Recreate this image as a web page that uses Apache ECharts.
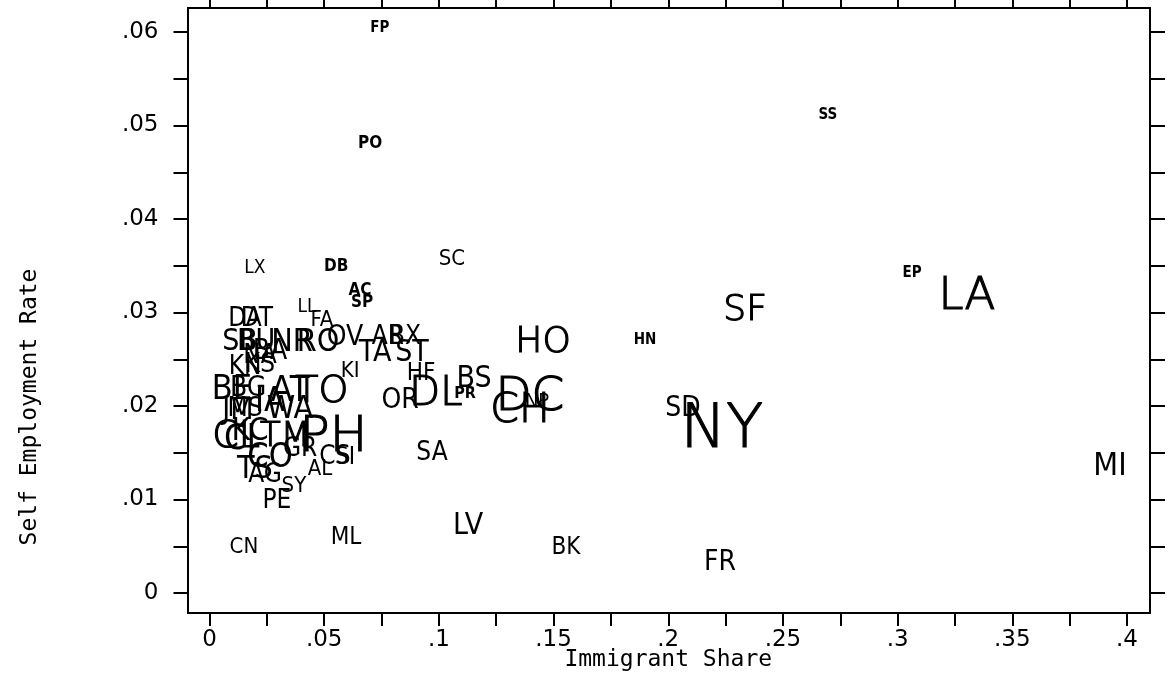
<!DOCTYPE html>
<html>
<head>
<meta charset="utf-8">
<script src="https://cdn.jsdelivr.net/npm/echarts@6/dist/echarts.min.js"></script>
<style>
  html, body { margin: 0; padding: 0; background: #fff; }
  #chart { width: 1168px; height: 687px; }
</style>
</head>
<body>
<div id="chart"></div>
<script>
// city codes
const cities = [
  "FP", "SS", "PO", "EP", "HN", "LX", "DB", "SC", "AC", "SP",
  "LL", "FA", "SF", "LA", "MI", "HO", "NY", "SD", "DC", "CH",
  "NP", "BS", "PR", "DL", "OR", "HF", "SA", "TA", "ST", "KI",
  "LV", "BK", "FR", "ML", "CN", "PE", "SY", "AL", "CS", "SI",
  "PH", "TM", "GR", "CL", "CI", "TS", "AG", "CO", "KC", "JM",
  "MS", "WA", "IA", "BE", "BG", "AT", "TO", "KN", "KS", "NA",
  "BA", "SB", "BU", "NR", "RO", "OV", "AR", "BX", "DA", "DT"
];
// immigrant share
const immShare = [
  0.0743, 0.2696, 0.0700, 0.3063, 0.1899, 0.0198, 0.0552, 0.1057, 0.0656, 0.0665,
  0.0425, 0.0490, 0.2335, 0.3302, 0.3926, 0.1454, 0.2234, 0.2064, 0.1397, 0.1354,
  0.1428, 0.1153, 0.1114, 0.0987, 0.0831, 0.0922, 0.0970, 0.0722, 0.0883, 0.0613,
  0.1127, 0.1554, 0.2226, 0.0595, 0.0150, 0.0294, 0.0368, 0.0482, 0.0547, 0.0591,
  0.0540, 0.0329, 0.0395, 0.0116, 0.0133, 0.0198, 0.0242, 0.0264, 0.0177, 0.0124,
  0.0155, 0.0351, 0.0264, 0.0098, 0.0168, 0.0351, 0.0490, 0.0155, 0.0220, 0.0220,
  0.0264, 0.0133, 0.0203, 0.0360, 0.0473, 0.0591, 0.0778, 0.0852, 0.0155, 0.0207
];
// self employment rate
const selfEmp = [
  0.0604, 0.0511, 0.0481, 0.0342, 0.0271, 0.0347, 0.0349, 0.0357, 0.0323, 0.0311,
  0.0306, 0.0292, 0.0302, 0.0316, 0.0135, 0.0268, 0.0173, 0.0197, 0.0209, 0.0194,
  0.0205, 0.0229, 0.0213, 0.0212, 0.0206, 0.0235, 0.0150, 0.0257, 0.0257, 0.0237,
  0.0071, 0.0048, 0.0032, 0.0059, 0.0049, 0.0098, 0.0114, 0.0132, 0.0145, 0.0145,
  0.0166, 0.0167, 0.0154, 0.0167, 0.0164, 0.0132, 0.0126, 0.0144, 0.0172, 0.0194,
  0.0196, 0.0196, 0.0204, 0.0217, 0.0219, 0.0215, 0.0215, 0.0241, 0.0244, 0.0253,
  0.0258, 0.0268, 0.0268, 0.0268, 0.0268, 0.0273, 0.0273, 0.0274, 0.0293, 0.0293
];
// relative size of each city (label scale)
const citySize = [
  1.5, 1.5, 1.7, 1.5, 1.5, 1.9, 1.7, 2.2, 1.7, 1.7,
  1.9, 2.2, 4.0, 5.0, 3.2, 4.0, 6.8, 2.8, 5.2, 4.6,
  2.0, 3.0, 1.6, 4.4, 2.8, 2.4, 2.6, 3.0, 3.0, 2.2,
  3.0, 2.4, 2.8, 2.4, 2.2, 2.6, 2.2, 2.2, 2.6, 2.4,
  5.6, 3.8, 2.6, 4.2, 3.6, 3.2, 2.6, 3.4, 3.2, 3.0,
  2.6, 3.2, 3.4, 3.4, 2.8, 3.6, 4.2, 2.6, 2.6, 2.6,
  2.8, 3.0, 3.0, 3.2, 3.2, 2.8, 2.6, 2.6, 2.6, 2.6
];
const xTicks = [0, 0.4, 0.025];
const yTicks = [0, 0.06, 0.005];

const narrowFont = '"DejaVu Sans Condensed", "Liberation Sans Narrow", "DejaVu Sans"';

// 大标签用细体加描边，小标签用粗体
const points = cities.map((c, i) => {
  let fs = Math.round(citySize[i] * 10);
  let big = fs >= 38;
  return {
    name: c,
    value: [immShare[i], selfEmp[i]],
    label: {
      fontSize: big ? Math.round(fs * 0.9) : fs,
      fontFamily: big ? "DejaVu Sans" : narrowFont,
      fontWeight: fs < 18 ? "bold" : big ? 200 : "normal",
      textBorderColor: "#000",
      textBorderWidth: big ? 1.2 : 0
    }
  };
});

function fmt(v) {
  return String(+v.toFixed(3)).replace(/^0\./, ".");
}

let myChart = echarts.init(document.getElementById("chart"));
myChart.setOption({
  animation: false,
  textStyle: { fontFamily: "DejaVu Sans", color: "#000" },
  grid: [
    // 外框
    { left: 188, top: 8, width: 962, height: 605, show: true, borderColor: "#000", borderWidth: 2 },
    // 数据区
    { left: 209.5, top: 32, width: 917.5, height: 561 }
  ],
  xAxis: [
    { gridIndex: 0, show: false, min: 0, max: 1 },
    {
      gridIndex: 1, type: "value", position: "bottom", offset: 20,
      min: xTicks[0], max: xTicks[1], interval: xTicks[2],
      axisLine: { show: false, onZero: false },
      axisTick: { show: true, inside: false, length: 13, lineStyle: { color: "#000", width: 2 } },
      splitLine: { show: false },
      axisLabel: {
        margin: 16, fontSize: 23, color: "#000", fontFamily: "DejaVu Sans",
        formatter: (v) => (Math.round(v * 1000) % 50 === 0 ? fmt(v) : "")
      },
      name: "Immigrant Share", nameLocation: "middle", nameGap: 47, nameMoveOverlap: false,
      nameTextStyle: { fontFamily: "DejaVu Sans Mono", fontSize: 23, color: "#000", verticalAlign: "middle" }
    },
    {
      gridIndex: 1, type: "value", position: "top", offset: 24,
      min: xTicks[0], max: xTicks[1], interval: xTicks[2],
      axisLine: { show: false, onZero: false },
      axisTick: { show: true, inside: false, length: 13, lineStyle: { color: "#000", width: 2 } },
      splitLine: { show: false },
      axisLabel: { show: false }
    }
  ],
  yAxis: [
    { gridIndex: 0, show: false, min: 0, max: 1 },
    {
      gridIndex: 1, type: "value", position: "left", offset: 21,
      min: yTicks[0], max: yTicks[1], interval: yTicks[2],
      axisLine: { show: false, onZero: false },
      axisTick: { show: true, inside: false, length: 15, lineStyle: { color: "#000", width: 2 } },
      splitLine: { show: false },
      axisLabel: {
        margin: 30, fontSize: 23, color: "#000", fontFamily: "DejaVu Sans",
        formatter: (v) => (Math.round(v * 1000) % 10 === 0 ? fmt(v) : "")
      }
    },
    {
      gridIndex: 1, type: "value", position: "right", offset: 23,
      min: yTicks[0], max: yTicks[1], interval: yTicks[2],
      axisLine: { show: false, onZero: false },
      axisTick: { show: true, inside: false, length: 15, lineStyle: { color: "#000", width: 2 } },
      splitLine: { show: false },
      axisLabel: { show: false }
    }
  ],
  graphic: [
    {
      type: "text", x: 30, y: 407, rotation: Math.PI / 2,
      style: {
        text: "Self Employment Rate", fontFamily: "DejaVu Sans Mono", fontSize: 23,
        fill: "#000", align: "center", verticalAlign: "middle"
      }
    }
  ],
  series: [
    {
      type: "scatter",
      xAxisIndex: 1,
      yAxisIndex: 1,
      clip: false,
      symbol: "circle",
      symbolSize: 0,
      itemStyle: { color: "#000", opacity: 1 },
      label: {
        show: true,
        position: "inside",
        formatter: "{b}",
        color: "#000",
        opacity: 1
      },
      emphasis: { disabled: true },
      data: points
    }
  ]
});

window.addEventListener("resize", () => {
  myChart.resize();
});
</script>
</body>
</html>
